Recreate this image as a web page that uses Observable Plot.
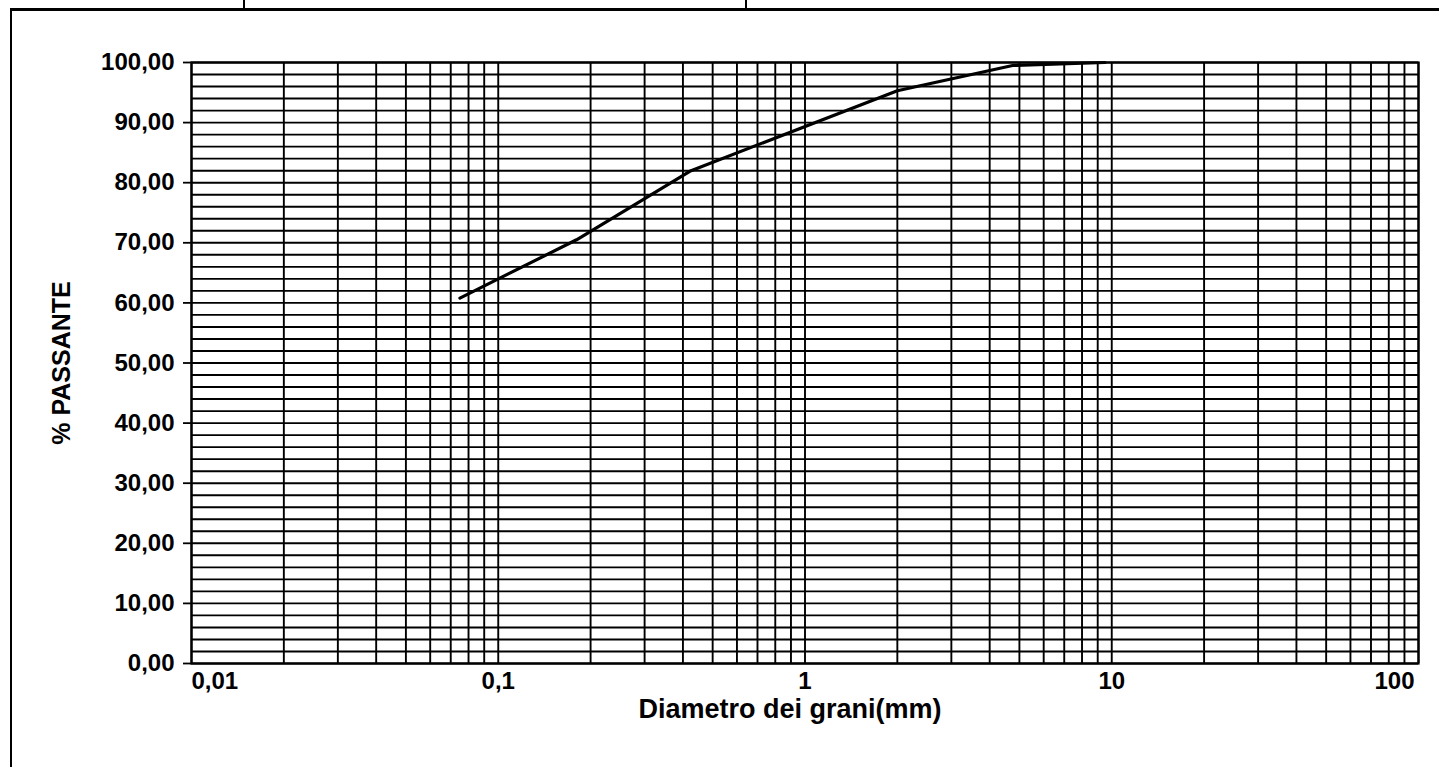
<!DOCTYPE html>
<html>
<head>
<meta charset="utf-8">
<script src="https://cdn.jsdelivr.net/npm/d3@7"></script>
<script src="https://cdn.jsdelivr.net/npm/@observablehq/plot@0.6"></script>
<style>
  html, body { margin: 0; padding: 0; background: #fff; width: 1439px; height: 767px; overflow: hidden; }
  #frame { position: absolute; left: 10px; top: 8px; width: 1429px; height: 759px; border-left: 2px solid #000; border-top: 3px solid #000; box-sizing: border-box; }
  .div1 { position: absolute; top: 0; width: 2px; height: 9px; background: #000; }
  #chart { position: absolute; left: 0; top: 0; }
</style>
</head>
<body>
<div id="frame"></div>
<div class="div1" style="left:243px"></div>
<div class="div1" style="left:745px"></div>
<div id="chart"></div>
<script>
// Grain size distribution (sieve diameters in mm, % passing)
const diametri = [0.075, 0.18, 0.425, 2, 4.75, 9.5];
const passante = [60.8, 70.5, 82.0, 95.3, 99.5, 100];

// Axis ticks & labels
const yTicks = [0, 10, 20, 30, 40, 50, 60, 70, 80, 90, 100];
const xTickValues = [0.01, 0.1, 1, 10, 100];
const xTickLabels = ["0,01", "0,1", "1", "10", "100"];

// Gridlines
const xGrid = [
  0.01, 0.02, 0.03, 0.04, 0.05, 0.06, 0.07, 0.08, 0.09,
  0.1, 0.2, 0.3, 0.4, 0.5, 0.6, 0.7, 0.8, 0.9,
  1, 2, 3, 4, 5, 6, 7, 8, 9,
  10, 20, 30, 40, 50, 60, 70, 80, 90, 100
];
const yGrid = [
  0, 2, 4, 6, 8, 10, 12, 14, 16, 18, 20, 22, 24, 26, 28, 30, 32, 34, 36, 38,
  40, 42, 44, 46, 48, 50, 52, 54, 56, 58, 60, 62, 64, 66, 68, 70, 72, 74, 76, 78,
  80, 82, 84, 86, 88, 90, 92, 94, 96, 98, 100
];

const curve = diametri.map((d, i) => ({d, p: passante[i]}));
const xLab = xTickValues.map((v, i) => ({v, t: xTickLabels[i]}));

const font = "'Liberation Sans', Arial, sans-serif";
const lab = {fontSize: 24, fontWeight: "bold", fill: "#000"};

const chart = Plot.plot({
  width: 1439,
  height: 767,
  marginLeft: 191,
  marginRight: 21,
  marginTop: 62,
  marginBottom: 104,
  style: {fontFamily: font, background: "transparent", color: "#000"},
  x: {type: "log", domain: [0.01, 100], axis: null},
  y: {domain: [0, 100], axis: null},
  marks: [
    Plot.ruleY(yGrid, {y: d => d, stroke: "#000", strokeWidth: 1.9}),
    Plot.ruleX(xGrid, {x: d => d, stroke: "#000", strokeWidth: 1.9}),
    Plot.frame({stroke: "#000", strokeWidth: 2.2}),
    Plot.axisY(yTicks, {
      anchor: "left", tickSize: 8, tickPadding: 9, strokeWidth: 1.8,
      tickFormat: d => d.toFixed(2).replace(".", ","),
      label: null, ...lab
    }),
    Plot.line(curve, {x: "d", y: "p", stroke: "#000", strokeWidth: 3.2}),
    Plot.text(xLab.slice(0, 1), {x: "v", text: "t", frameAnchor: "bottom", lineAnchor: "top", dy: 8, textAnchor: "start", ...lab}),
    Plot.text(xLab.slice(1, -1), {x: "v", text: "t", frameAnchor: "bottom", lineAnchor: "top", dy: 8, textAnchor: "middle", ...lab}),
    Plot.text(xLab.slice(-1), {x: "v", text: "t", frameAnchor: "bottom", lineAnchor: "top", dy: 8, textAnchor: "end", dx: -4, ...lab}),
    Plot.text(["% PASSANTE"], {frameAnchor: "left", rotate: -90, dx: -130, textAnchor: "middle", lineAnchor: "middle", fontSize: 25, fontWeight: "bold", fill: "#000"}),
    Plot.text(["Diametro dei grani(mm)"], {frameAnchor: "bottom", dy: 46, dx: -15, textAnchor: "middle", lineAnchor: "middle", fontSize: 27, fontWeight: "bold", fill: "#000"})
  ]
});
document.getElementById("chart").appendChild(chart);
</script>
</body>
</html>
